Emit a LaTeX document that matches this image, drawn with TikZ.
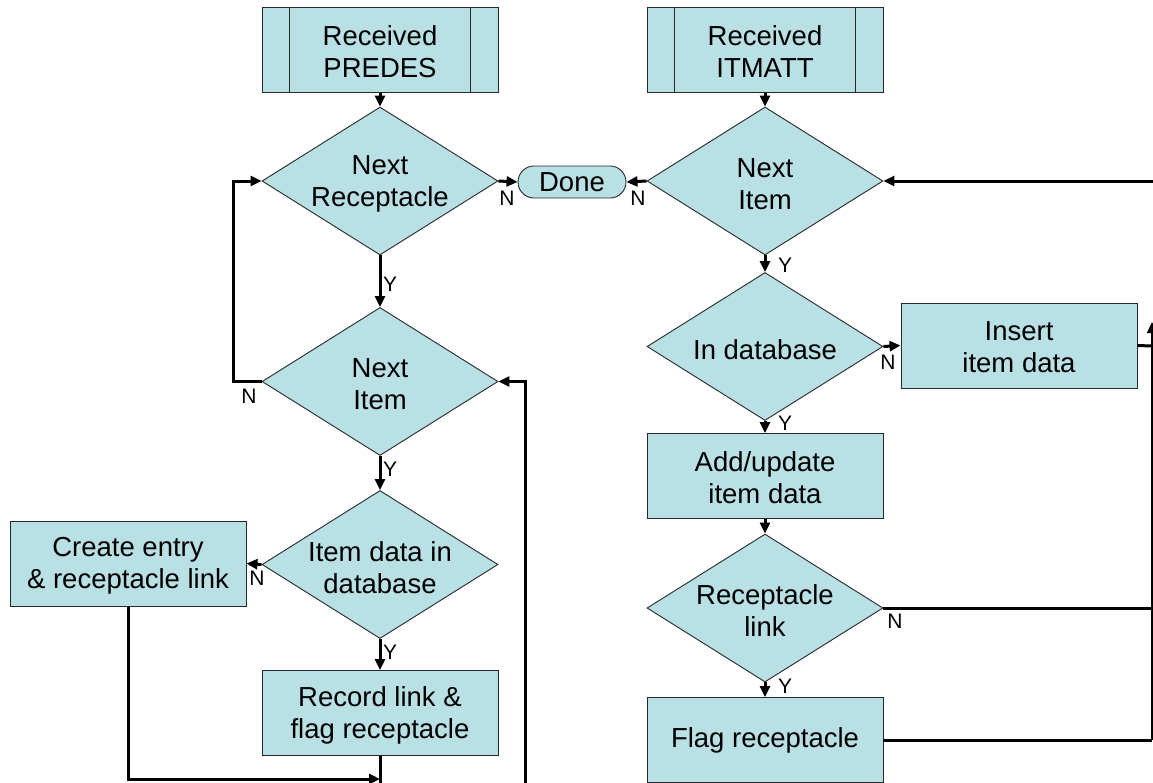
\documentclass[tikz,border=0pt]{standalone}
\usepackage{fontspec}
\setmainfont{Liberation Sans}
\usetikzlibrary{shapes.geometric,arrows.meta}
\definecolor{boxfill}{RGB}{185,224,228}
\definecolor{edge}{RGB}{40,40,40}
\tikzset{
  proc/.style={rectangle, draw=edge, line width=0.9pt, fill=boxfill, minimum width=236pt, minimum height=85pt, inner sep=0pt, align=center, font=\fontsize{27.5}{32}\selectfont},
  ptxt/.style={align=center, inner sep=0pt, yshift=-2pt, font=\fontsize{27.5}{32}\selectfont},
  dia/.style={diamond, draw=edge, line width=0.9pt, fill=boxfill, minimum width=236pt, minimum height=148pt, inner sep=0pt},
  diatxt/.style={align=center, inner sep=0pt, yshift=-3pt, font=\fontsize{27.5}{32}\selectfont},
  term/.style={rectangle, rounded corners=16pt, draw=edge, line width=0.9pt, fill=boxfill, minimum width=108pt, minimum height=32pt, inner sep=0pt, font=\fontsize{27.5}{32}\selectfont},
  lbl/.style={inner sep=0pt, font=\fontsize{21}{23}\selectfont},
  conn/.style={line width=3pt, draw=black},
  arr/.style={conn, -{Triangle[length=11pt,width=10pt]}},
}
\begin{document}
\begin{tikzpicture}[x=1pt,y=-1pt]
\useasboundingbox (0,0) rectangle (1153,782);
\clip (0,0) rectangle (1153,782);
% ---- left column ----
\node[proc] (predes) at (380,50) {};
\node[ptxt] (predesT) at (predes.center) {Received\\PREDES};
\draw[edge, line width=0.9pt] ([xshift=28pt]predes.north west) -- ([xshift=28pt]predes.south west);
\draw[edge, line width=0.9pt] ([xshift=-28pt]predes.north east) -- ([xshift=-28pt]predes.south east);
\node[dia] (nr) at (380,181) {};
\node[diatxt] (nrT) at (nr.center) {Next\\Receptacle};
\node[dia] (nil) at (380,381.5) {};
\node[diatxt] (nilT) at (nil.center) {Next\\Item};
\node[dia] (idd) at (380,564.5) {};
\node[diatxt] (iddT) at (idd.center) {Item data in\\database};
\node[proc] (ce) at (128,563.5) {};
\node[ptxt] (ceT) at (ce.center) {Create entry\\\& receptacle link};
\node[proc] (rl) at (380,713) {};
\node[ptxt] (rlT) at (rl.center) {Record link \&\\flag receptacle};
\node[term] (done) at (572,182) {Done};
% ---- right column ----
\node[proc] (itmatt) at (765,50) {};
\node[ptxt] (itmattT) at (itmatt.center) {Received\\ITMATT};
\draw[edge, line width=0.9pt] ([xshift=28pt]itmatt.north west) -- ([xshift=28pt]itmatt.south west);
\draw[edge, line width=0.9pt] ([xshift=-28pt]itmatt.north east) -- ([xshift=-28pt]itmatt.south east);
\node[dia] (ni) at (765,181) {};
\node[diatxt] (niT) at (ni.center) {Next\\Item};
\node[dia] (indb) at (765,346.5) {};
\node[diatxt] (indbT) at (indb.center) {In database};
\node[proc] (ins) at (1019,345.5) {};
\node[ptxt] (insT) at (ins.center) {Insert\\item data};
\node[proc] (add) at (765,476) {};
\node[ptxt] (addT) at (add.center) {Add/update\\item data};
\node[dia] (rlk) at (765,608) {};
\node[diatxt] (rlkT) at (rlk.center) {Receptacle\\link};
\node[proc] (flag) at (765,740) {Flag receptacle};
% ---- free ends ----
\coordinate (loopL) at (525,800);
\coordinate (merge) at (380,779);
\coordinate (rlOut) at (380,800);
\coordinate (rkOut) at (1152,608);
\coordinate (flOut) at (1152,740);
\coordinate (insOut) at (1152,346);
\coordinate (upTip) at (1152,322);
\coordinate (topIn) at (1170,181);
% ---- connectors left ----
\draw[arr] (predes.south) -- (nr.north);
\draw[arr] (nr.east) -- (done.west);
\draw[arr] (ni.west) -- (done.east);
\draw[arr] (nr.south) -- (nil.north);
\draw[arr] (nil.west) -- ++(-28,0) |- (nr.west);
\draw[arr] (nil.south) -- (idd.north);
\draw[arr] (idd.west) -- (ce.east);
\draw[arr] (idd.south) -- (rl.north);
\draw[arr] (ce.south) |- (merge);
\draw[conn] (rl.south) -- (rlOut);
\draw[arr] (loopL) |- (nil.east);
% ---- connectors right ----
\draw[arr] (itmatt.south) -- (ni.north);
\draw[arr] (ni.south) -- (indb.north);
\draw[arr] (indb.east) -- (ins.west);
\draw[arr] (indb.south) -- (add.north);
\draw[arr] (add.south) -- (rlk.north);
\draw[arr] (rlk.south) -- (flag.north);
\draw[conn] (rlk.east) -- (rkOut);
\draw[conn] (flag.east) -- (flOut);
\draw[conn] (ins.east) -- (insOut);
\draw[arr, line width=1.2pt] (flOut) -- (upTip);
\draw[arr] (topIn) -- (ni.east);
% ---- labels ----
\node[lbl] (n1) at (507,198) {N};
\node[lbl] (n2) at (638,198) {N};
\node[lbl] (y1) at (390,284) {Y};
\node[lbl] (n3) at (249,396) {N};
\node[lbl] (y2) at (390,469) {Y};
\node[lbl] (n4) at (257,578) {N};
\node[lbl] (y3) at (390,652) {Y};
\node[lbl] (y4) at (785,265) {Y};
\node[lbl] (n5) at (888,362) {N};
\node[lbl] (y5) at (785,423) {Y};
\node[lbl] (y6) at (785,686) {Y};
\node[lbl] (n6) at (895,621) {N};
\end{tikzpicture}
\end{document}
